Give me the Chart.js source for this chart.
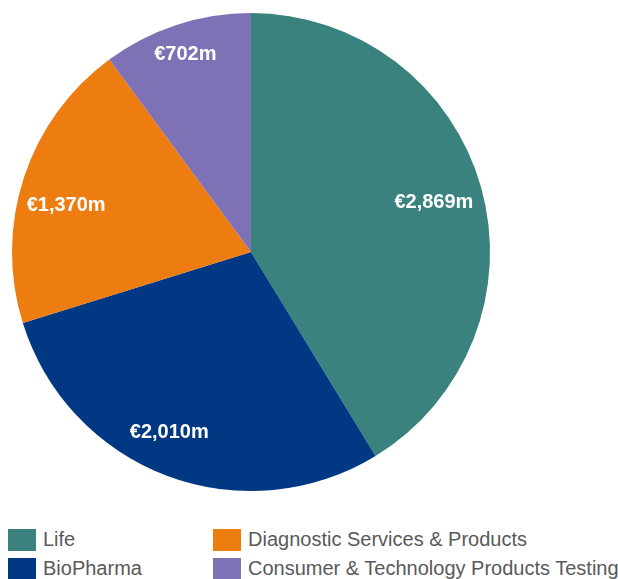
<!DOCTYPE html>
<html>
<head>
<meta charset="utf-8">
<script src="https://cdn.jsdelivr.net/npm/chart.js@4.4.1/dist/chart.umd.min.js"></script>
<style>
    body { margin: 0; background: #fff; font-family: "Liberation Sans", Arial, sans-serif; }
    #wrap { position: relative; width: 618px; height: 579px; }
    #chartBox { position: absolute; left: 0; top: 0; width: 618px; height: 505px; }
    .legend-item { position: absolute; display: flex; align-items: center; font-size: 20px; color: #595959; white-space: nowrap; }
    .legend-item span.box { display: inline-block; width: 28px; height: 22px; margin-right: 7px; }
</style>
</head>
<body>
<div id="wrap">
    <div id="chartBox"><canvas id="pieChart"></canvas></div>
    <div id="legend"></div>
</div>
<script>
const categories = ["Life", "BioPharma", "Diagnostic Services & Products", "Consumer & Technology Products Testing"];
const revenue = [2869, 2010, 1370, 702];
const valueLabels = ["€2,869m", "€2,010m", "€1,370m", "€702m"];
const colors = ["#3a827d", "#003883", "#ee7d11", "#7f71b5"];

// white bold labels inside slices (radius factor / angle nudge per slice)
const labelRadius = [0.795, 0.82, 0.8, 0.88];
const labelNudge = [0, 4, -3.4, 0];

const sliceLabels = {
    id: "sliceLabels",
    afterDatasetsDraw(chart) {
        const ctx = chart.ctx;
        const meta = chart.getDatasetMeta(0);
        ctx.save();
        ctx.font = "bold 20px 'Liberation Sans', Arial, sans-serif";
        ctx.fillStyle = "#fff";
        ctx.textAlign = "center";
        ctx.textBaseline = "middle";
        meta.data.forEach((arc, i) => {
            const mid = (arc.startAngle + arc.endAngle) / 2 + labelNudge[i] * Math.PI / 180;
            const r = arc.outerRadius * labelRadius[i];
            ctx.fillText(valueLabels[i], arc.x + Math.cos(mid) * r, arc.y + Math.sin(mid) * r + 2);
        });
        ctx.restore();
    }
};

function buildLegend() {
    const legend = document.getElementById("legend");
    const pos = [[8, 528], [8, 557], [213, 528], [213, 557]];
    categories.forEach((name, i) => {
        const div = document.createElement("div");
        div.className = "legend-item";
        div.style.left = pos[i][0] + "px";
        div.style.top = pos[i][1] + "px";
        div.innerHTML = `<span class="box" style="background:${colors[i]}"></span>${name}`;
        legend.appendChild(div);
    });
}

document.addEventListener("DOMContentLoaded", () => {
    buildLegend();
    new Chart(document.getElementById("pieChart"), {
        type: "pie",
        data: {
            labels: categories,
            datasets: [{
                data: revenue,
                backgroundColor: colors,
                borderWidth: 0
            }]
        },
        options: {
            responsive: true,
            maintainAspectRatio: false,
            animation: false,
            layout: { padding: { left: 12, right: 128, top: 13, bottom: 14 } },
            plugins: { legend: { display: false }, tooltip: { enabled: false } }
        },
        plugins: [sliceLabels]
    });
});
</script>
</body>
</html>
